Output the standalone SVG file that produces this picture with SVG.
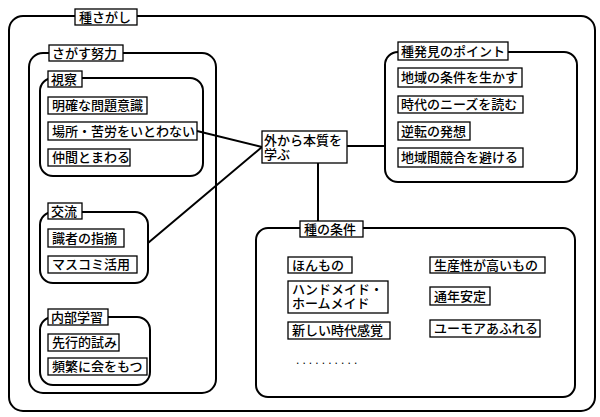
<svg xmlns="http://www.w3.org/2000/svg" width="600" height="417" viewBox="0 0 600 417">
<style>
.grp{fill:none;stroke:#000;stroke-width:2}
.box{fill:#fff;stroke:#000;stroke-width:1.3}
.t{font-family:"Noto Sans CJK JP","Noto Sans CJK SC",sans-serif;font-size:13px;font-weight:500;fill:#000}
.c{fill:none;stroke:#000;stroke-width:2}
</style>
<rect width="600" height="417" fill="#fff"/>
<g id="connectors">
<line class="c" x1="197" y1="131" x2="262" y2="147"/>
<line class="c" x1="148" y1="243" x2="262" y2="147"/>
<line class="c" x1="347" y1="146" x2="385" y2="146"/>
<line class="c" x1="318" y1="163" x2="318" y2="221"/>
</g>
<g id="tanesagashi">
<rect class="grp" x="9" y="16" width="586" height="395" rx="14"/>
<rect class="box" x="75" y="9" width="62" height="16"/>
<text class="t" x="79" y="22">種さがし</text>
</g>
<g id="sagasu-doryoku">
<rect class="grp" x="29" y="53" width="187" height="340" rx="14"/>
<rect class="box" x="49" y="45" width="74" height="16"/>
<text class="t" x="52" y="58">さがす努力</text>
</g>
<g id="shisatsu">
<rect class="grp" x="40" y="78" width="163" height="98" rx="13"/>
<rect class="box" x="48" y="71" width="34" height="16"/>
<text class="t" x="51" y="84">視察</text>
</g>
<g id="n-meikaku"><rect class="box" x="48" y="97" width="99" height="17"/><text class="t" x="52" y="110">明確な問題意識</text></g>
<g id="n-basho"><rect class="box" x="48" y="122" width="149" height="18"/><text class="t" x="52" y="136">場所・苦労をいとわない</text></g>
<g id="n-nakama"><rect class="box" x="48" y="149" width="82" height="17"/><text class="t" x="52" y="162">仲間とまわる</text></g>
<g id="koryu">
<rect class="grp" x="40" y="212" width="108" height="71" rx="13"/>
<rect class="box" x="48" y="203" width="34" height="16"/>
<text class="t" x="51" y="216">交流</text>
</g>
<g id="n-shikisha"><rect class="box" x="48" y="229" width="76" height="18"/><text class="t" x="52" y="243">識者の指摘</text></g>
<g id="n-masukomi"><rect class="box" x="48" y="256" width="89" height="17"/><text class="t" x="52" y="269">マスコミ活用</text></g>
<g id="naibu">
<rect class="grp" x="40" y="317" width="110" height="68" rx="13"/>
<rect class="box" x="48" y="309" width="60" height="16"/>
<text class="t" x="51" y="322">内部学習</text>
</g>
<g id="n-senko"><rect class="box" x="48" y="334" width="71" height="17"/><text class="t" x="52" y="347">先行的試み</text></g>
<g id="n-hinpan"><rect class="box" x="48" y="358" width="99" height="17"/><text class="t" x="52" y="371">頻繁に会をもつ</text></g>
<g id="center">
<rect class="box" x="262" y="131" width="85" height="32"/>
<text class="t"><tspan x="264" y="145">外から本質を</tspan><tspan x="264" y="159">学ぶ</tspan></text>
</g>
<g id="hakken">
<rect class="grp" x="385" y="52" width="192" height="130" rx="13"/>
<rect class="box" x="398" y="42" width="110" height="18"/>
<text class="t" x="401" y="56">種発見のポイント</text>
</g>
<g id="n-chiiki"><rect class="box" x="398" y="68" width="124" height="19"/><text class="t" x="401" y="82">地域の条件を生かす</text></g>
<g id="n-jidai"><rect class="box" x="398" y="96" width="125" height="17"/><text class="t" x="401" y="109">時代のニーズを読む</text></g>
<g id="n-gyakuten"><rect class="box" x="398" y="122" width="72" height="18"/><text class="t" x="401" y="136">逆転の発想</text></g>
<g id="n-kyogo"><rect class="box" x="398" y="148" width="125" height="19"/><text class="t" x="401" y="162">地域間競合を避ける</text></g>
<g id="joken">
<rect class="grp" x="256" y="228" width="319" height="169" rx="12"/>
<rect class="box" x="300" y="221" width="63" height="16"/>
<text class="t" x="304" y="234">種の条件</text>
</g>
<g id="n-honmono"><rect class="box" x="288" y="257" width="64" height="16"/><text class="t" x="292" y="270">ほんもの</text></g>
<g id="n-hand"><rect class="box" x="288" y="281" width="100" height="32"/><text class="t"><tspan x="292" y="294">ハンドメイド・</tspan><tspan x="292" y="308">ホームメイド</tspan></text></g>
<g id="n-atarashii"><rect class="box" x="288" y="322" width="102" height="17"/><text class="t" x="292" y="335">新しい時代感覚</text></g>
<g id="n-dots"><text x="296" y="364" style="font-family:'Liberation Sans',sans-serif;font-size:12px;letter-spacing:3.1px">..........</text></g>
<g id="n-seisan"><rect class="box" x="430" y="257" width="115" height="16"/><text class="t" x="434" y="270">生産性が高いもの</text></g>
<g id="n-tsunen"><rect class="box" x="430" y="287" width="60" height="18"/><text class="t" x="434" y="301">通年安定</text></g>
<g id="n-yumoa"><rect class="box" x="430" y="320" width="110" height="17"/><text class="t" x="434" y="333">ユーモアあふれる</text></g>
</svg>
